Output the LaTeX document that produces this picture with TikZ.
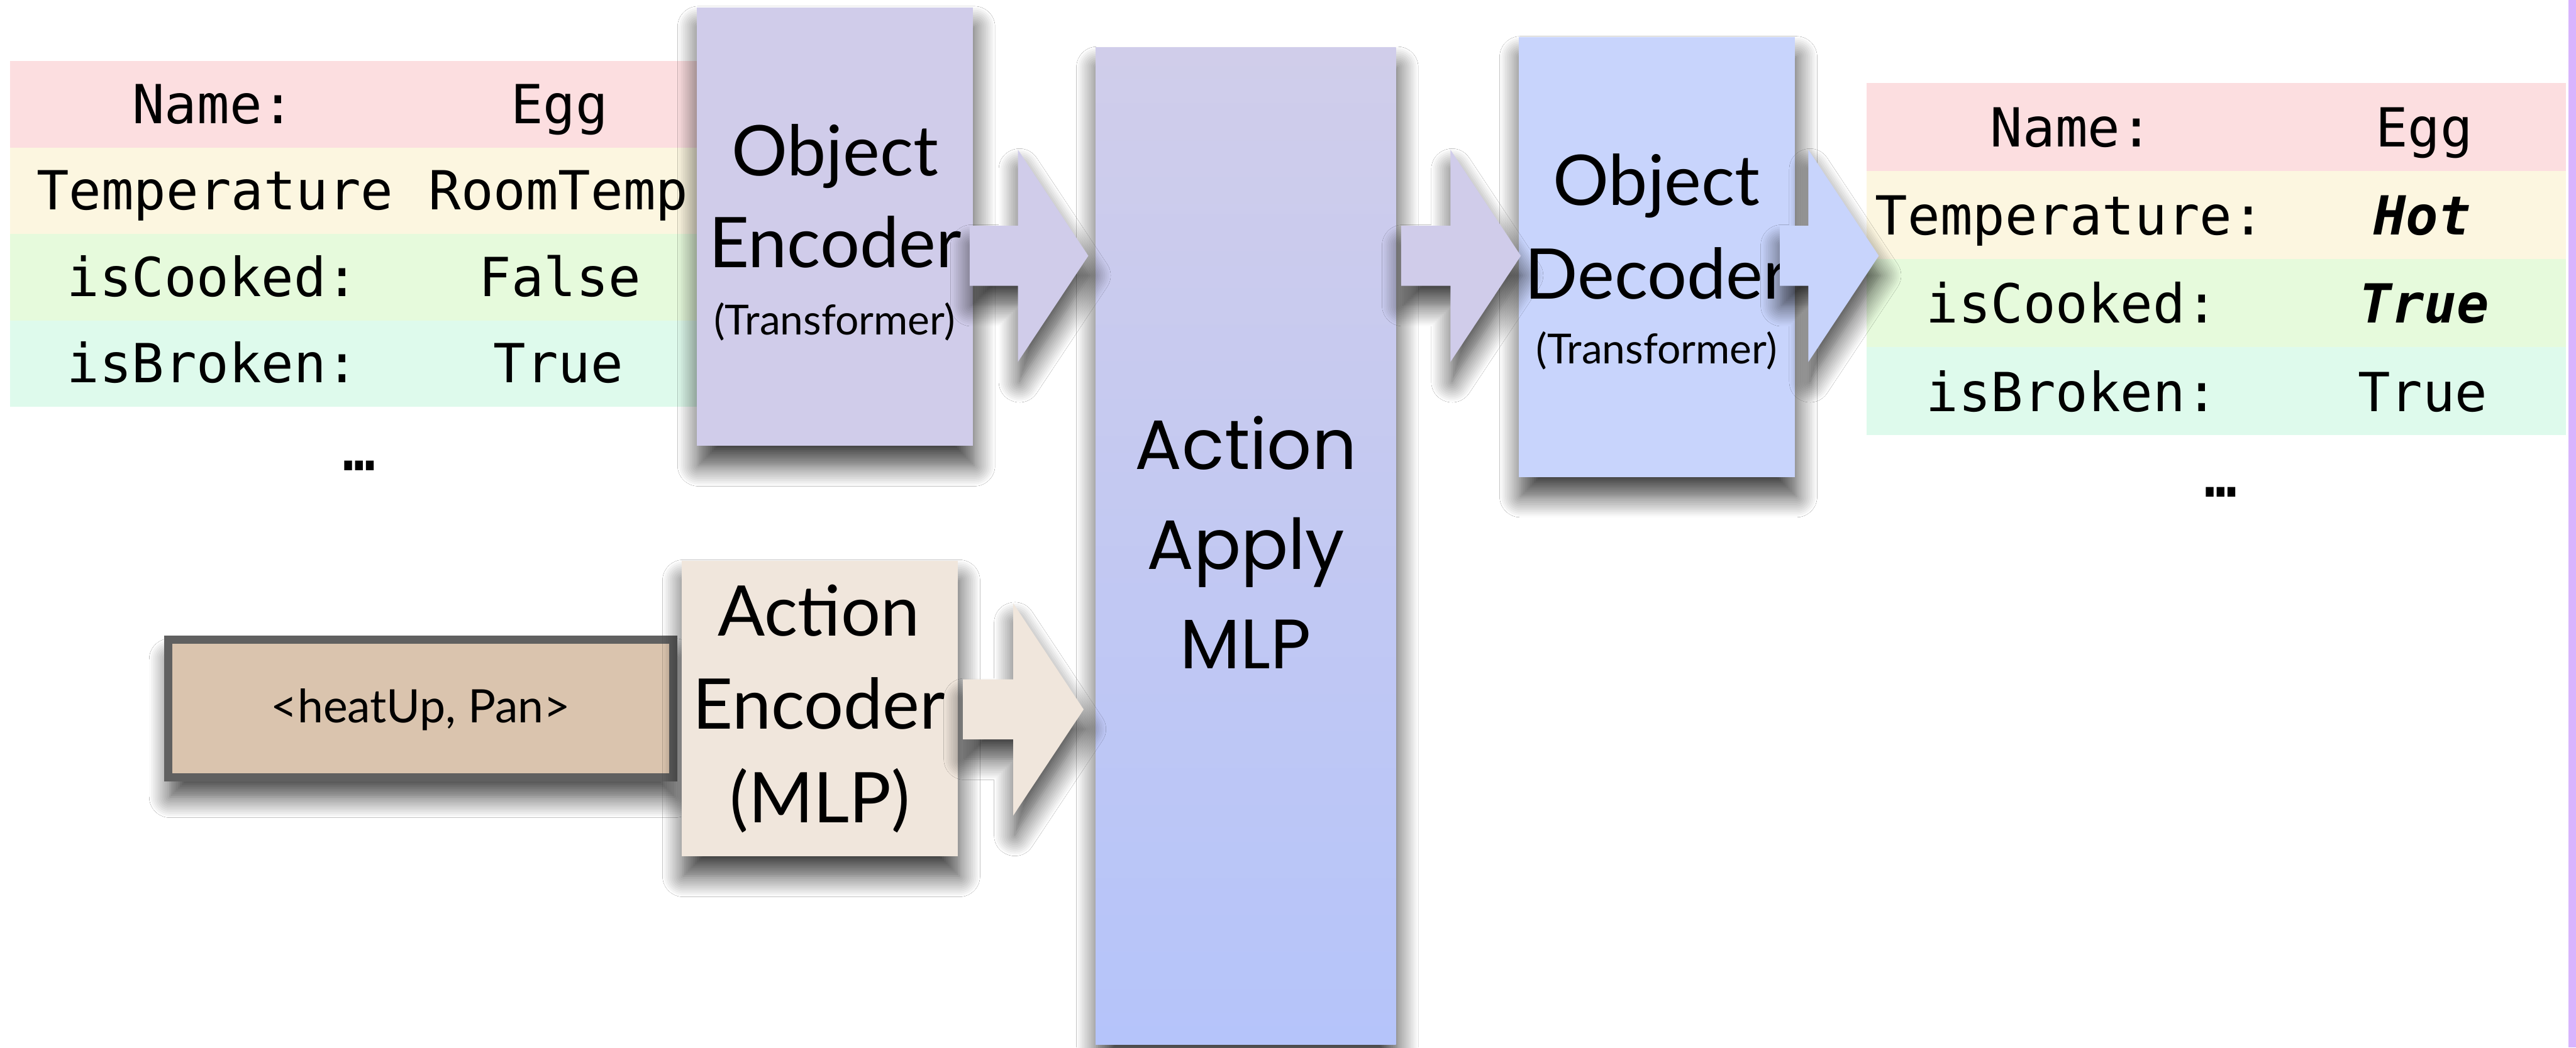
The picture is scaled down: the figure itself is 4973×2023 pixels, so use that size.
\documentclass[tikz,border=0pt]{standalone}
\usepackage{fontspec}
\setmainfont{Lato}
\newfontfamily\latof{Lato}
\newfontfamily\popf{Poppins}
\newfontfamily\monof{DejaVu Sans Mono}
\usetikzlibrary{calc,shadows.blur}
\definecolor{rowpink}{RGB}{252,222,224}
\definecolor{rowcream}{RGB}{252,246,224}
\definecolor{rowgreen}{RGB}{230,250,220}
\definecolor{rowmint}{RGB}{222,250,236}
\definecolor{encpurple}{RGB}{208,204,234}
\definecolor{mlptop}{RGB}{208,205,234}
\definecolor{mlpbot}{RGB}{181,196,250}
\definecolor{decblue}{RGB}{200,212,252}
\definecolor{aencbeige}{RGB}{240,230,220}
\definecolor{heattan}{RGB}{218,196,174}
\definecolor{heatborder}{RGB}{96,96,96}
\definecolor{stripviolet}{RGB}{216,180,254}
\newcommand{\blockarr}[3]{%
  \path[#1] let \p1=#2, \p2=#3 in
    (\x1,\y2+5.8pt) -- (\x2-13.6pt,\y2+5.8pt) -- (\x2-13.6pt,\y2+20.5pt) --
    (\x2,\y2) -- (\x2-13.6pt,\y2-20.5pt) -- (\x2-13.6pt,\y2-5.8pt) --
    (\x1,\y2-5.8pt) -- cycle;}
\tikzset{
  shad/.style={blur shadow={shadow xshift=0.3pt, shadow yshift=-3.8pt, shadow blur radius=4pt, shadow blur steps=12, shadow opacity=75}},
  boxbase/.style={rectangle, anchor=north west, inner sep=0pt, outer sep=0pt},
  rowbox/.style={boxbase, minimum height=16.7pt, minimum width=134pt},
  rrowbox/.style={boxbase, minimum height=17pt, minimum width=135.1pt},
  tabtxt/.style={anchor=base, inner sep=0pt, font=\monof\fontsize{10.4}{12}\selectfont},
  hitxt/.style={tabtxt, font=\monof\bfseries\itshape\fontsize{10.4}{12}\selectfont},
  dotstxt/.style={anchor=center, inner sep=0pt, font=\monof\bfseries\fontsize{10.4}{12}\selectfont},
  bigtxt/.style={anchor=base, inner sep=0pt, font=\latof\fontsize{13.5}{16}\selectfont},
  smalltxt/.style={anchor=base, inner sep=0pt, font=\latof\fontsize{8}{9}\selectfont},
  mlptxt/.style={anchor=base, inner sep=0pt, font=\popf\fontsize{13.5}{16}\selectfont},
}
\begin{document}
\begin{tikzpicture}[x=0.1pt,y=-0.1pt]
\useasboundingbox (0,0) rectangle (4973,2023);
\fill[white] (0,0) rectangle (4973,2023);

% left table
\node[rowbox, fill=rowpink]  (lr1) at (19,118) {};
\node[rowbox, fill=rowcream] (lr2) at (19,285) {};
\node[rowbox, fill=rowgreen] (lr3) at (19,452) {};
\node[rowbox, fill=rowmint]  (lr4) at (19,619) {};
\node[tabtxt] (l1a) at (412,239) {Name:};
\node[tabtxt] (l1b) at (1080,239) {Egg};
\node[tabtxt] (l2a) at (415,405) {Temperature};
\node[tabtxt] (l2b) at (1078,405) {RoomTemp};
\node[tabtxt] (l3a) at (411,572) {isCooked:};
\node[tabtxt] (l3b) at (1081,572) {False};
\node[tabtxt] (l4a) at (411,739) {isBroken:};
\node[tabtxt] (l4b) at (1078,739) {True};
\node[dotstxt] (ldots) at (694,900) {…};

% object encoder
\node[boxbase, fill=encpurple, shad, minimum width=53.3pt, minimum height=84.7pt] (enc) at (1345,14) {};
\node[bigtxt] (enc1) at (1612,339) {Object};
\node[bigtxt] (enc2) at (1612,517) {Encoder};
\node[smalltxt] (enc3) at (1611,646) {(Transformer)};

% heatUp box
\node[rectangle, inner sep=0pt, draw=heatborder, line width=1.6pt, fill=heattan, shad,
      minimum width=97.5pt, minimum height=26.6pt] (heat) at (812.5,1368) {};
\node[anchor=base, inner sep=0pt, font=\latof\fontsize{8.9}{10}\selectfont] (heattxt) at (812,1395) {<heatUp, Pan>};

% action encoder
\node[boxbase, fill=aencbeige, shad, minimum width=53.3pt, minimum height=57.1pt] (aenc) at (1316,1083) {};
\node[bigtxt] (aenc1) at (1581,1228) {Action};
\node[bigtxt] (aenc2) at (1581,1408) {Encoder};
\node[bigtxt] (aenc3) at (1583,1589) {(MLP)};

% action apply mlp
\node[boxbase, top color=mlptop, bottom color=mlpbot, shad, minimum width=58pt, minimum height=192.5pt] (mlp) at (2115,92) {};
\node[mlptxt] (mlp1) at (2405,906) {Action};
\node[mlptxt] (mlp2) at (2405,1099) {Apply};
\node[mlptxt] (mlp3) at (2405,1291) {MLP};

\coordinate (ay1) at (0,494);
\coordinate (ay2) at (0,1370);

% arrows into mlp
\blockarr{fill=aencbeige, shad}{($(aenc.east|-ay2)+(10,0)$)}{($(mlp.west|-ay2)+(-23,0)$)}
\blockarr{fill=encpurple, shad}{($(enc.east|-ay1)+(-6,0)$)}{($(mlp.west|-ay1)+(-14,0)$)}

% object decoder
\node[boxbase, fill=decblue, shad, minimum width=53.3pt, minimum height=84.9pt] (dec) at (2932,72) {};
\node[bigtxt] (dec1) at (3198,396) {Object};
\node[bigtxt] (dec2) at (3198,577) {Decoder};
\node[smalltxt] (dec3) at (3198,702) {(Transformer)};

\blockarr{fill=encpurple, shad}{($(mlp.east|-ay1)+(10,0)$)}{($(dec.west|-ay1)+(4,0)$)}

% right table
\node[rrowbox, fill=rowpink]  (rr1) at (3603,160) {};
\node[rrowbox, fill=rowcream] (rr2) at (3603,330) {};
\node[rrowbox, fill=rowgreen] (rr3) at (3603,500) {};
\node[rrowbox, fill=rowmint]  (rr4) at (3603,670) {};
\node[tabtxt] (r1a) at (3999,284) {Name:};
\node[tabtxt] (r1b) at (4680,284) {Egg};
\node[tabtxt] (r2a) at (3996,454) {Temperature:};
\node[hitxt]  (r2b) at (4676,454) {Hot};
\node[tabtxt] (r3a) at (4000,624) {isCooked:};
\node[hitxt]  (r3b) at (4680,624) {True};
\node[tabtxt] (r4a) at (4000,794) {isBroken:};
\node[tabtxt] (r4b) at (4677,794) {True};
\node[dotstxt] (rdots) at (4287,950) {…};

\blockarr{fill=decblue, shad}{($(dec.east|-ay1)+(-29,0)$)}{($(rr1.west|-ay1)+(24,0)$)}

% right edge strip
\fill[stripviolet] (4958,0) rectangle (4973,2023);
\end{tikzpicture}
\end{document}
